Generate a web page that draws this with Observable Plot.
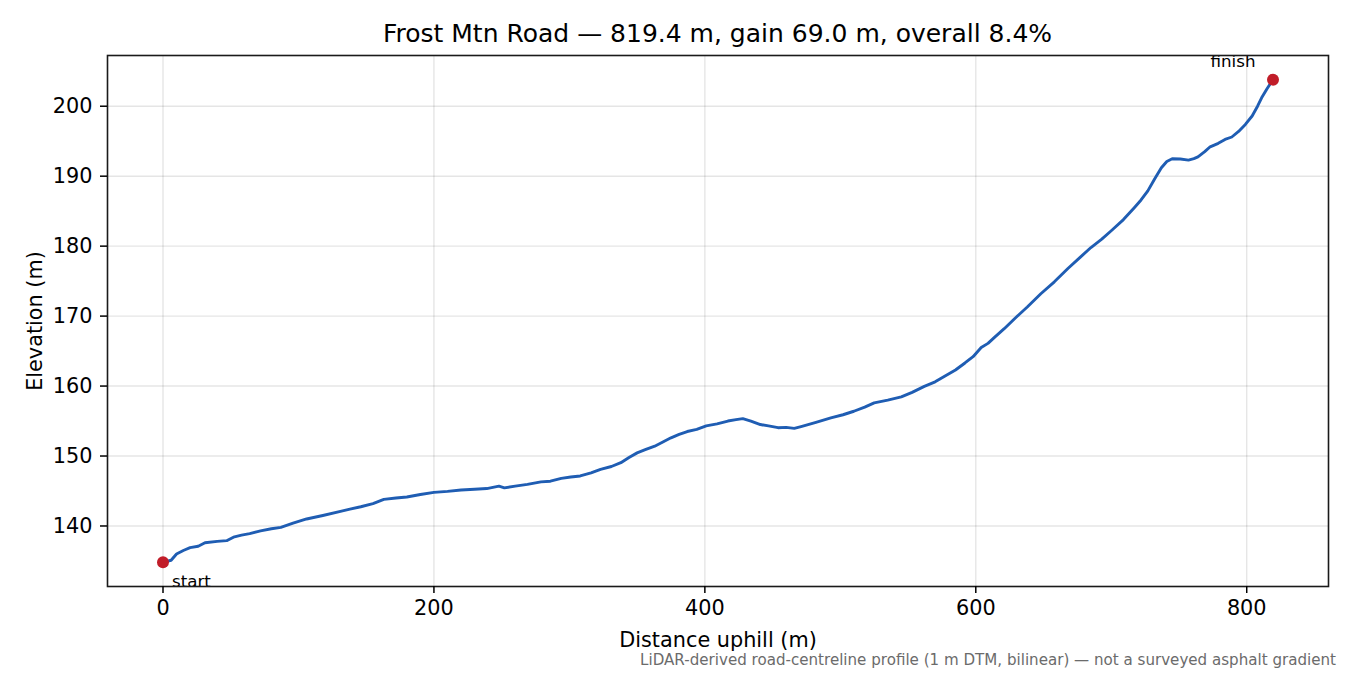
<!DOCTYPE html>
<html>
<head>
<meta charset="utf-8">
<script src="https://cdn.jsdelivr.net/npm/d3@7"></script>
<script src="https://cdn.jsdelivr.net/npm/@observablehq/plot@0.6"></script>
<style>
  html, body { margin: 0; padding: 0; background: #fff; }
  body { width: 1350px; height: 675px; overflow: hidden; font-family: "DejaVu Sans", sans-serif; }
  #title { box-sizing: border-box; width: 1350px; height: 46px; padding: 21px 22px 0 107px; font-size: 25px; line-height: 25px; text-align: center; color: #000; white-space: nowrap; }
  #chart svg { display: block; }
  #caption { box-sizing: border-box; width: 1350px; height: 24px; padding: 2px 14px 0 0; font-size: 15.1px; line-height: 15px; text-align: right; color: #6b6b6b; white-space: nowrap; }
</style>
</head>
<body>
<div id="title">Frost Mtn Road — 819.4 m, gain 69.0 m, overall 8.4%</div>
<div id="chart"></div>
<div id="caption">LiDAR-derived road-centreline profile (1 m DTM, bilinear) — not a surveyed asphalt gradient</div>
<script>
const distance = [0, 6, 10, 15, 20, 26, 31, 40, 47, 52, 58, 64, 72, 80, 87, 96, 106, 118, 131, 138,
  146, 155, 163, 172, 180, 190, 200, 210, 220, 230, 239, 248, 252, 260, 269, 279, 286, 294, 301, 308,
  316, 323, 331, 338, 344, 350, 356, 363, 369, 375, 381, 387, 394, 401, 409, 417, 423, 428, 434, 441,
  447, 454, 460, 466, 471, 482, 493, 502, 510, 518, 525, 535, 545, 553, 562, 570, 577, 585, 592, 598,
  604, 609, 614, 621, 629, 638, 648, 658, 668, 677, 685, 693, 700, 709, 717, 722, 727, 732, 737, 741,
  745, 751, 757, 761, 764, 769, 773, 779, 784, 789, 794, 799, 804, 808, 811, 815, 819.4];
const elevation = [134.8, 135.1, 136.0, 136.5, 136.9, 137.1, 137.6, 137.8, 137.9, 138.4, 138.7, 138.9, 139.3, 139.6, 139.8, 140.4, 141.0, 141.5, 142.1, 142.4,
  142.75, 143.2, 143.8, 144.0, 144.15, 144.5, 144.8, 144.95, 145.15, 145.25, 145.35, 145.7, 145.45, 145.7, 145.95, 146.3, 146.4, 146.8, 147.0, 147.15,
  147.6, 148.1, 148.5, 149.05, 149.8, 150.45, 150.9, 151.4, 152.0, 152.6, 153.1, 153.5, 153.8, 154.3, 154.6, 155.0, 155.2, 155.35, 155.0, 154.5,
  154.3, 154.05, 154.1, 153.95, 154.2, 154.8, 155.45, 155.9, 156.4, 157.0, 157.6, 158.0, 158.45, 159.1, 159.95, 160.6, 161.4, 162.3, 163.3, 164.2,
  165.5, 166.1, 167.0, 168.2, 169.7, 171.3, 173.2, 174.9, 176.8, 178.4, 179.8, 181.0, 182.2, 183.8, 185.5, 186.6, 187.9, 189.6, 191.2, 192.1,
  192.5, 192.45, 192.3, 192.5, 192.75, 193.5, 194.2, 194.7, 195.25, 195.6, 196.4, 197.4, 198.6, 200.0, 201.2, 202.5, 203.8];
const xTicks = [0, 200, 400, 600, 800];
const yTicks = [140, 150, 160, 170, 180, 190, 200];
const endLabels = ["start", "finish"];
const xLabel = "Distance uphill (m)";
const yLabel = "Elevation (m)";

const profile = distance.map((d, i) => ({d, e: elevation[i]}));
const ends = [profile[0], profile[profile.length - 1]].map((p, i) => ({...p, label: endLabels[i]}));

const chart = Plot.plot({
  width: 1350,
  height: 605,
  marginLeft: 107,
  marginRight: 22,
  marginTop: 9,
  marginBottom: 65,
  x: {domain: [-40.97, 860.37]},
  y: {domain: [131.35, 207.25]},
  style: {fontFamily: "DejaVu Sans", fontSize: "20.8px", color: "#000", background: "#fff", overflow: "visible"},
  marks: [
    Plot.gridX(xTicks, {stroke: "#000", strokeOpacity: 0.1, strokeWidth: 1.4}),
    Plot.gridY(yTicks, {stroke: "#000", strokeOpacity: 0.1, strokeWidth: 1.4}),
    Plot.line(profile, {x: "d", y: "e", stroke: "#1f5db3", strokeWidth: 2.9, curve: "linear"}),
    Plot.dot(ends, {x: "d", y: "e", r: 6, fill: "#c11d29", stroke: null}),
    Plot.text([ends[0]], {x: "d", y: "e", text: "label", textAnchor: "start", lineAnchor: "bottom", dx: 9, dy: 25, fontSize: 16.7}),
    Plot.text([ends[1]], {x: "d", y: "e", text: "label", textAnchor: "middle", lineAnchor: "bottom", dx: -40, dy: -13, fontSize: 16.7}),
    Plot.frame({stroke: "#1a1a1a", strokeWidth: 1.6}),
    Plot.axisX(xTicks, {tickSize: 7, tickPadding: 7, strokeWidth: 1.5, label: null, fontSize: 20.8}),
    Plot.axisY(yTicks, {tickSize: 7, tickPadding: 8, strokeWidth: 1.5, label: null, fontSize: 20.8}),
    Plot.text([xLabel], {text: d => d, frameAnchor: "bottom", textAnchor: "middle", lineAnchor: "bottom", dy: 60, fontSize: 20.8}),
    Plot.text([yLabel], {text: d => d, frameAnchor: "left", textAnchor: "middle", lineAnchor: "bottom", rotate: -90, dx: -66, fontSize: 20.8})
  ]
});
document.getElementById("chart").appendChild(chart);
</script>
</body>
</html>
